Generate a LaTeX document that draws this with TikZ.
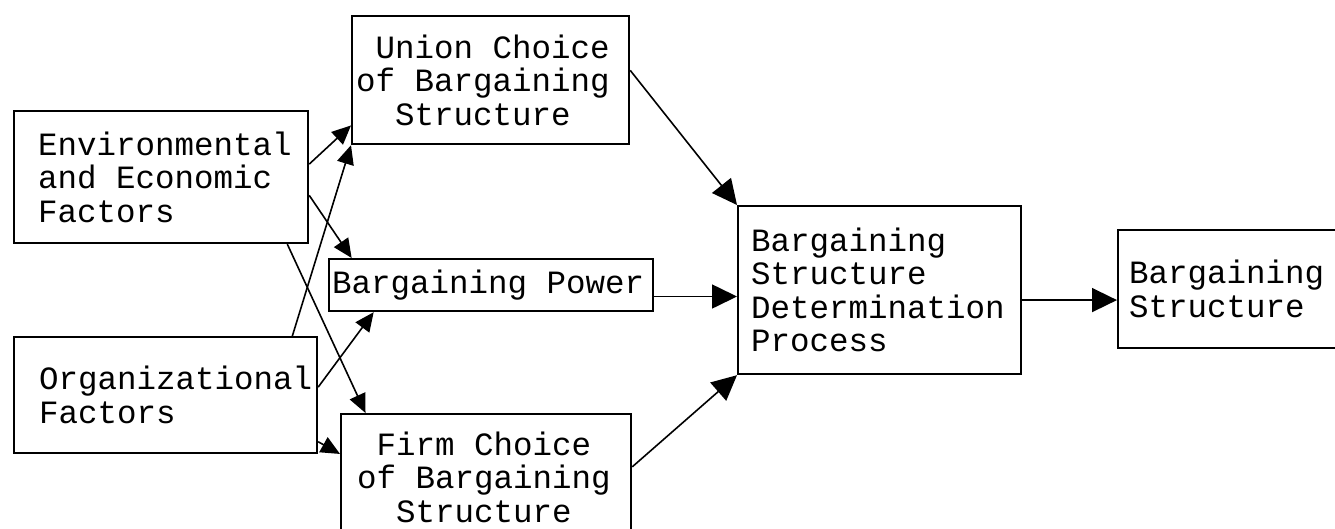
\documentclass[tikz,border=0pt]{standalone}
\usepackage{fontspec}
\setmonofont{Liberation Mono}
\usepackage{tikz}
\usetikzlibrary{arrows.meta}

\begin{document}
\begin{tikzpicture}[x=1pt,y=-1pt,
      every node/.append style={font=\ttfamily\fontsize{32.5}{33.5}\selectfont,
        execute at begin node={\spaceskip=19.5pt\relax}},
      blk/.style={draw=black,line width=2.2pt,rectangle,anchor=north west,align=left,inner xsep=0pt,inner ysep=0pt},
      arr/.style={-{Triangle[length=25pt,width=24pt]},line width=1.6pt},
      arrs/.style={-{Triangle[length=19pt,width=17pt]},line width=1.6pt}]
    \useasboundingbox (0,0) rectangle (1335,529);
    % inputs
    \node (Env) [blk,minimum width=294pt,minimum height=132pt,text width=246pt] at (13,110)
      {Environmental\\and Economic\\Factors};
    \node (Org) [blk,minimum width=303pt,minimum height=116pt,text width=253pt] at (13,336)
      {Organizational\\Factors};
    % middle column
    \node (Union) [blk,minimum width=277pt,minimum height=128pt,text width=269pt] at (351,15)
      {\phantom{x}Union Choice\\of Bargaining\\\phantom{xx}Structure};
    \node (Power) [blk,minimum width=324pt,minimum height=52pt,text width=318pt] at (328,258)
      {Bargaining Power};
    \node (Firm) [blk,minimum width=290pt,minimum height=126pt,text width=258pt] at (340,413)
      {\phantom{x}Firm Choice\\of Bargaining\\\phantom{xx}Structure};
    % process and result
    \node (Process) [blk,minimum width=283pt,minimum height=168pt,text width=257pt] at (737,205)
      {Bargaining\\Structure\\Determination\\Process};
    \node (Result) [blk,minimum width=221pt,minimum height=118pt,text width=199pt] at (1117,229)
      {Bargaining\\Structure};

    \draw[arrs] (Env.5) -- (Union.198);
    \draw[arrs] (Env.-7) -- (Power.169);
    \draw[arrs] (Env.-28) -- (Firm.152);
    \draw[arrs] (Org.25) -- (Union.south west);
    \draw[arrs] (Org.3) -- (Power.193);
    \draw[arrs] (Org.-17) -- (Firm.171);
    \draw[arr] (Union.4) -- (Process.north west);
    \draw[arr] (Power.-4) -- (Power.-4 -| Process.west);
    \draw[arr] (Firm.4) -- (Process.south west);
    \draw[arr] (Process.-4) -- (Process.-4 -| Result.west);
  \end{tikzpicture}
\end{document}
